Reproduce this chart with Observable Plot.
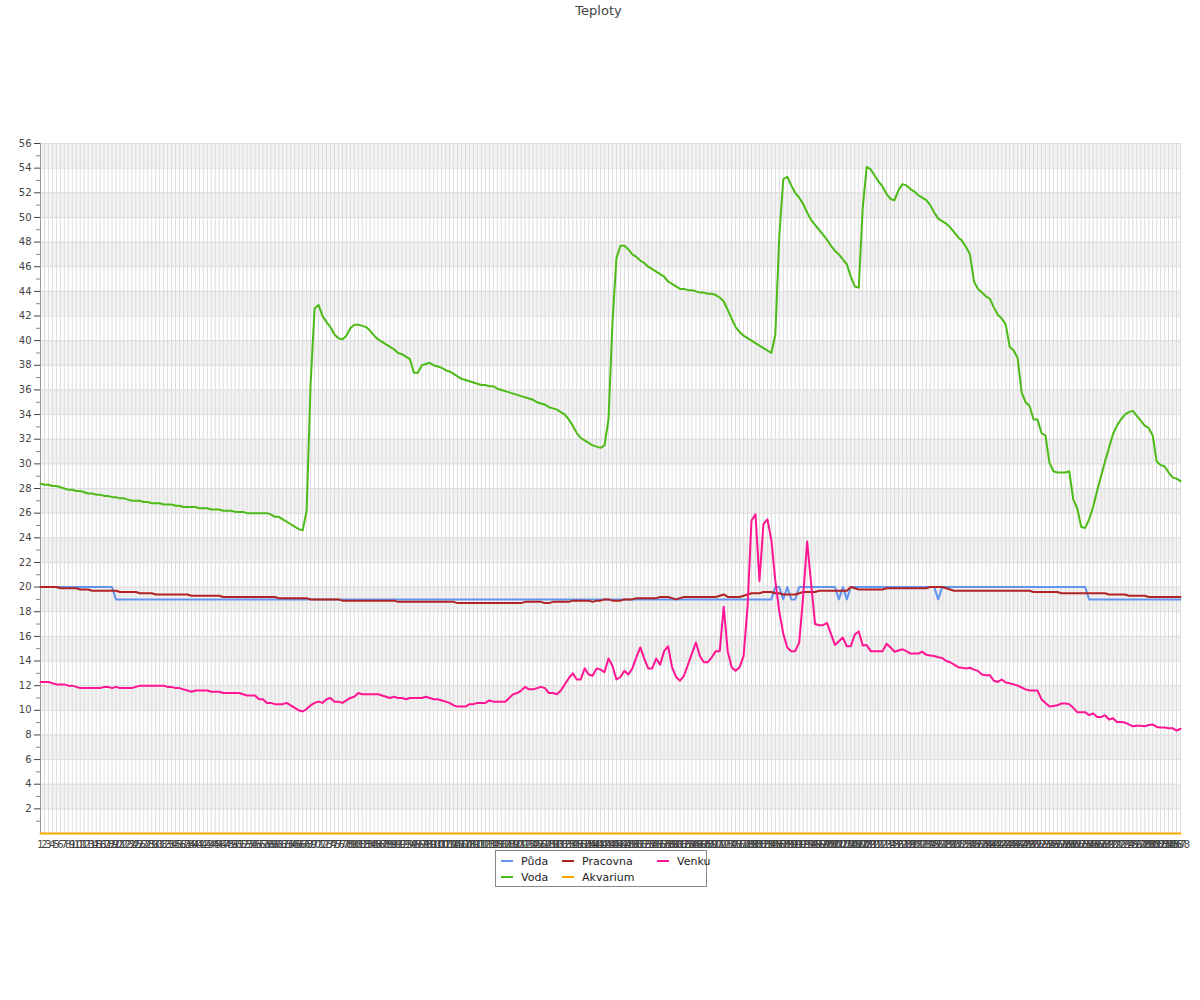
<!DOCTYPE html>
<html>
<head>
<meta charset="utf-8">
<script src="https://cdn.jsdelivr.net/npm/d3@7"></script>
<script src="https://cdn.jsdelivr.net/npm/@observablehq/plot@0.6"></script>
<style>
  body { margin: 0; background: #fff; font-family: "DejaVu Sans", sans-serif; }
  #wrap { position: relative; width: 1200px; height: 1000px; }
  #title { position: absolute; top: 3px; left: 0; width: 1197px; text-align: center; font-size: 13px; color: #444; }
  #chart { position: absolute; top: 25px; left: 0; }
  #legend { position: absolute; left: 495px; top: 850px; width: 210px; height: 35px; border: 1px solid #888; background: #fff; font-size: 11px; color: #222; }
  .item { position: absolute; height: 14px; line-height: 14px; white-space: nowrap; }
  .sw { display: inline-block; width: 12px; height: 2px; vertical-align: middle; margin-right: 8px; position: relative; top: -1px; }
</style>
</head>
<body>
<div id="wrap">
  <div id="title">Teploty</div>
  <div id="chart"></div>
  <div id="legend"></div>
</div>
<script>
// ---- data ----
const titleText = "Teploty";
const names = ["Půda", "Pracovna", "Venku", "Voda", "Akvarium"];
const colors = ["#6495ED", "#B22222", "#FF1493", "#4CBB17", "#FFA500"];
const xLabels = Array.from({length: 288}, (_, i) => i + 1);
const yTicks = [2,4,6,8,10,12,14,16,18,20,22,24,26,28,30,32,34,36,38,40,42,44,46,48,50,52,54,56];
const yMinor = [1,3,5,7,9,11,13,15,17,19,21,23,25,27,29,31,33,35,37,39,41,43,45,47,49,51,53,55];

const puda = [
20,20,20,20,20,20,20,20,20,20,20,20,20,20,20,20,20,20,20,19,19,19,19,19,
19,19,19,19,19,19,19,19,19,19,19,19,19,19,19,19,19,19,19,19,19,19,19,19,
19,19,19,19,19,19,19,19,19,19,19,19,19,19,19,19,19,19,19,19,19,19,19,19,
19,19,19,19,19,19,19,19,19,19,19,19,19,19,19,19,19,19,19,19,19,19,19,19,
19,19,19,19,19,19,19,19,19,19,19,19,19,19,19,19,19,19,19,19,19,19,19,19,
19,19,19,19,19,19,19,19,19,19,19,19,19,19,19,19,19,19,19,19,19,19,19,19,
19,19,19,19,19,19,19,19,19,19,19,19,19,19,19,19,19,19,19,19,19,19,19,19,
19,19,19,19,19,19,19,19,19,19,19,19,19,19,19,19,19,20,20,19,20,19,19,20,
20,20,20,20,20,20,20,20,20,19,20,19,20,20,20,20,20,20,20,20,20,20,20,20,
20,20,20,20,20,20,20,20,20,20,19,20,20,20,20,20,20,20,20,20,20,20,20,20,
20,20,20,20,20,20,20,20,20,20,20,20,20,20,20,20,20,20,20,20,20,20,20,20,
19,19,19,19,19,19,19,19,19,19,19,19,19,19,19,19,19,19,19,19,19,19,19,19
];

const voda = [
28.4,28.3,28.3,28.2,28.2,28.1,28.0,27.9,27.9,27.8,
27.8,27.7,27.6,27.6,27.5,27.5,27.4,27.4,27.3,27.3,
27.2,27.2,27.1,27.0,27.0,27.0,26.9,26.9,26.8,26.8,
26.8,26.7,26.7,26.7,26.6,26.6,26.5,26.5,26.5,26.5,
26.4,26.4,26.4,26.3,26.3,26.3,26.2,26.2,26.2,26.1,
26.1,26.1,26.0,26.0,26.0,26.0,26.0,26.0,25.9,25.7,
25.7,25.5,25.3,25.1,24.9,24.7,24.6,26.2,36.5,42.6,
42.9,42.0,41.5,41.1,40.5,40.2,40.1,40.4,41.0,41.3,
41.3,41.2,41.1,40.8,40.4,40.1,39.9,39.7,39.5,39.3,
39.0,38.9,38.7,38.5,37.4,37.4,38.0,38.1,38.2,38.0,
37.9,37.8,37.6,37.5,37.3,37.1,36.9,36.8,36.7,36.6,
36.5,36.4,36.4,36.3,36.3,36.1,36.0,35.9,35.8,35.7,
35.6,35.5,35.4,35.3,35.2,35.0,34.9,34.8,34.6,34.5,
34.4,34.2,34.0,33.6,33.1,32.5,32.1,31.9,31.7,31.5,
31.4,31.3,31.5,33.6,41.5,46.7,47.7,47.7,47.4,47.0,
46.8,46.5,46.3,46.0,45.8,45.6,45.4,45.2,44.8,44.6,
44.4,44.2,44.2,44.1,44.1,44.0,43.9,43.9,43.8,43.8,
43.7,43.5,43.2,42.5,41.8,41.1,40.7,40.4,40.2,40.0,
39.8,39.6,39.4,39.2,39.0,40.5,48.5,53.1,53.3,52.6,
52.0,51.6,51.1,50.4,49.8,49.4,49.0,48.6,48.2,47.7,
47.3,47.0,46.6,46.2,45.2,44.4,44.3,50.8,54.1,53.9,
53.4,52.9,52.5,51.9,51.5,51.4,52.2,52.7,52.6,52.3,
52.1,51.8,51.6,51.4,51.0,50.4,49.9,49.7,49.5,49.2,
48.8,48.4,48.1,47.6,47.0,44.8,44.2,43.9,43.6,43.4,
42.7,42.1,41.8,41.3,39.5,39.2,38.6,35.8,35.0,34.7,
33.6,33.6,32.5,32.3,30.1,29.4,29.3,29.3,29.3,29.4,
27.1,26.4,24.9,24.8,25.5,26.5,27.8,29.0,30.2,31.3,
32.4,33.1,33.6,34.0,34.2,34.3,33.9,33.5,33.1,32.9,
32.3,30.2,29.9,29.8,29.3,28.9,28.8,28.6
];

const pracovna = [
20.0,20.0,20.0,20.0,20.0,19.9,19.9,19.9,19.9,19.9,
19.8,19.8,19.8,19.7,19.7,19.7,19.7,19.7,19.7,19.7,
19.6,19.6,19.6,19.6,19.6,19.5,19.5,19.5,19.5,19.4,
19.4,19.4,19.4,19.4,19.4,19.4,19.4,19.4,19.3,19.3,
19.3,19.3,19.3,19.3,19.3,19.3,19.2,19.2,19.2,19.2,
19.2,19.2,19.2,19.2,19.2,19.2,19.2,19.2,19.2,19.2,
19.1,19.1,19.1,19.1,19.1,19.1,19.1,19.1,19.0,19.0,
19.0,19.0,19.0,19.0,19.0,19.0,18.9,18.9,18.9,18.9,
18.9,18.9,18.9,18.9,18.9,18.9,18.9,18.9,18.9,18.9,
18.8,18.8,18.8,18.8,18.8,18.8,18.8,18.8,18.8,18.8,
18.8,18.8,18.8,18.8,18.8,18.7,18.7,18.7,18.7,18.7,
18.7,18.7,18.7,18.7,18.7,18.7,18.7,18.7,18.7,18.7,
18.7,18.7,18.8,18.8,18.8,18.8,18.8,18.7,18.7,18.8,
18.8,18.8,18.8,18.8,18.9,18.9,18.9,18.9,18.9,18.8,
18.9,18.9,19.0,19.0,18.9,18.9,18.9,19.0,19.0,19.0,
19.1,19.1,19.1,19.1,19.1,19.1,19.2,19.2,19.2,19.1,
19.0,19.1,19.2,19.2,19.2,19.2,19.2,19.2,19.2,19.2,
19.2,19.3,19.4,19.2,19.2,19.2,19.2,19.3,19.4,19.5,
19.5,19.5,19.6,19.6,19.6,19.5,19.5,19.4,19.4,19.4,
19.4,19.5,19.6,19.6,19.6,19.6,19.7,19.7,19.7,19.7,
19.7,19.7,19.7,19.7,20.0,19.9,19.8,19.8,19.8,19.8,
19.8,19.8,19.8,19.9,19.9,19.9,19.9,19.9,19.9,19.9,
19.9,19.9,19.9,19.9,20.0,20.0,20.0,20.0,19.9,19.8,
19.7,19.7,19.7,19.7,19.7,19.7,19.7,19.7,19.7,19.7,
19.7,19.7,19.7,19.7,19.7,19.7,19.7,19.7,19.7,19.7,
19.6,19.6,19.6,19.6,19.6,19.6,19.6,19.5,19.5,19.5,
19.5,19.5,19.5,19.5,19.5,19.5,19.5,19.5,19.5,19.4,
19.4,19.4,19.4,19.4,19.3,19.3,19.3,19.3,19.3,19.2,
19.2,19.2,19.2,19.2,19.2,19.2,19.2,19.2
];

const venku = [
12.3,12.3,12.3,12.2,12.1,12.1,12.1,12.0,12.0,11.9,
11.8,11.8,11.8,11.8,11.8,11.8,11.9,11.9,11.8,11.9,
11.8,11.8,11.8,11.8,11.9,12.0,12.0,12.0,12.0,12.0,
12.0,12.0,11.9,11.9,11.8,11.8,11.7,11.6,11.5,11.6,
11.6,11.6,11.6,11.5,11.5,11.5,11.4,11.4,11.4,11.4,
11.4,11.3,11.2,11.2,11.2,10.9,10.9,10.6,10.6,10.5,
10.5,10.5,10.6,10.4,10.2,10.0,9.9,10.1,10.4,10.6,
10.7,10.6,10.9,11.0,10.7,10.7,10.6,10.8,11.0,11.1,
11.4,11.3,11.3,11.3,11.3,11.3,11.2,11.1,11.0,11.1,
11.0,11.0,10.9,11.0,11.0,11.0,11.0,11.1,11.0,10.9,
10.9,10.8,10.7,10.6,10.4,10.3,10.3,10.3,10.5,10.5,
10.6,10.6,10.6,10.8,10.7,10.7,10.7,10.7,11.0,11.3,
11.4,11.6,11.9,11.7,11.7,11.8,11.9,11.8,11.4,11.4,
11.3,11.6,12.1,12.6,13.0,12.5,12.5,13.4,12.9,12.8,
13.4,13.3,13.1,14.2,13.6,12.5,12.7,13.2,12.9,13.4,
14.3,15.1,14.2,13.4,13.4,14.2,13.7,14.8,15.2,13.5,
12.7,12.4,12.8,13.7,14.6,15.5,14.4,13.9,13.9,14.3,
14.8,14.8,18.4,14.8,13.5,13.2,13.5,14.4,18.4,25.4,
25.9,20.5,25.1,25.5,23.8,20.5,18.0,16.2,15.1,14.8,
14.8,15.5,19.2,23.7,20.3,17.0,16.9,16.9,17.1,16.2,
15.3,15.6,15.9,15.2,15.2,16.15,16.4,15.25,15.3,14.8,
14.8,14.8,14.8,15.4,15.1,14.75,14.85,14.95,14.8,14.6,
14.6,14.6,14.75,14.5,14.45,14.4,14.3,14.25,14.0,13.9,
13.7,13.5,13.45,13.4,13.45,13.3,13.2,12.9,12.85,12.85,
12.4,12.3,12.5,12.25,12.2,12.1,12.0,11.85,11.7,11.6,
11.6,11.6,10.9,10.6,10.3,10.35,10.4,10.55,10.55,10.5,
10.2,9.85,9.85,9.85,9.6,9.75,9.45,9.45,9.6,9.25,
9.35,9.05,9.05,9.0,8.85,8.7,8.75,8.75,8.7,8.8,
8.85,8.65,8.6,8.6,8.55,8.55,8.35,8.5
];

const akvarium = [
0,0,0,0,0,0,0,0,0,0,0,0,0,0,0,0,0,0,0,0,0,0,0,0,
0,0,0,0,0,0,0,0,0,0,0,0,0,0,0,0,0,0,0,0,0,0,0,0,
0,0,0,0,0,0,0,0,0,0,0,0,0,0,0,0,0,0,0,0,0,0,0,0,
0,0,0,0,0,0,0,0,0,0,0,0,0,0,0,0,0,0,0,0,0,0,0,0,
0,0,0,0,0,0,0,0,0,0,0,0,0,0,0,0,0,0,0,0,0,0,0,0,
0,0,0,0,0,0,0,0,0,0,0,0,0,0,0,0,0,0,0,0,0,0,0,0,
0,0,0,0,0,0,0,0,0,0,0,0,0,0,0,0,0,0,0,0,0,0,0,0,
0,0,0,0,0,0,0,0,0,0,0,0,0,0,0,0,0,0,0,0,0,0,0,0,
0,0,0,0,0,0,0,0,0,0,0,0,0,0,0,0,0,0,0,0,0,0,0,0,
0,0,0,0,0,0,0,0,0,0,0,0,0,0,0,0,0,0,0,0,0,0,0,0,
0,0,0,0,0,0,0,0,0,0,0,0,0,0,0,0,0,0,0,0,0,0,0,0,
0,0,0,0,0,0,0,0,0,0,0,0,0,0,0,0,0,0,0,0,0,0,0,0
];

// ---- build ----
const seriesData = {"Půda": puda, "Pracovna": pracovna, "Venku": venku, "Voda": voda, "Akvarium": akvarium};
const drawOrder = ["Voda", "Půda", "Pracovna", "Akvarium", "Venku"];
const rows = [];
for (const name of drawOrder) {
  seriesData[name].forEach((v, i) => rows.push({x: xLabels[i], y: v, series: name}));
}
const xFirst = xLabels[0], xLast = xLabels[xLabels.length - 1];
const bands = yTicks.filter(t => t % 4 === 0).map(t => ({lo: t - 2, hi: t}));

const chart = Plot.plot({
  width: 1200,
  height: 833,
  marginLeft: 40,
  marginRight: 20,
  marginTop: 118,
  marginBottom: 25,
  style: {fontFamily: "DejaVu Sans, sans-serif", fontSize: "10px", background: "transparent"},
  x: {type: "linear", domain: [xFirst, xLast], label: null},
  y: {domain: [0, 56], label: null},
  color: {domain: names, range: colors},
  marks: [
    Plot.rect(bands, {x1: () => xFirst, x2: () => xLast, y1: "lo", y2: "hi", fill: "#f2f2f2"}),
    Plot.ruleX(xLabels, {stroke: "#dcdcdc", strokeWidth: 1}),
    Plot.ruleY(yTicks, {stroke: "#dcdcdc", strokeWidth: 1}),
    Plot.ruleX([xFirst], {stroke: "#999", strokeWidth: 1}),
    Plot.axisY(yMinor, {tickSize: 4, tickFormat: () => "", color: "#888", label: null}),
    Plot.axisY(yTicks, {tickSize: 6, tickPadding: 3, fontSize: 10, color: "#444", label: null}),
    Plot.axisX(xLabels, {tickSize: 0, tickPadding: 7, fontSize: 10, color: "#444", label: null, tickFormat: d => String(d)}),
    Plot.line(rows, {x: "x", y: "y", z: "series", stroke: "series", strokeWidth: 2})
  ]
});
document.getElementById("chart").appendChild(chart);
document.getElementById("title").textContent = titleText;

// ---- legend ----
const legendPos = [
  {name: "Půda", left: 5, top: 4},
  {name: "Pracovna", left: 66, top: 4},
  {name: "Venku", left: 161, top: 4},
  {name: "Voda", left: 5, top: 20},
  {name: "Akvarium", left: 66, top: 20}
];
const legend = document.getElementById("legend");
for (const p of legendPos) {
  const item = document.createElement("div");
  item.className = "item";
  item.style.left = p.left + "px";
  item.style.top = p.top + "px";
  const sw = document.createElement("span");
  sw.className = "sw";
  sw.style.background = colors[names.indexOf(p.name)];
  item.appendChild(sw);
  item.appendChild(document.createTextNode(p.name));
  legend.appendChild(item);
}
</script>
</body>
</html>
